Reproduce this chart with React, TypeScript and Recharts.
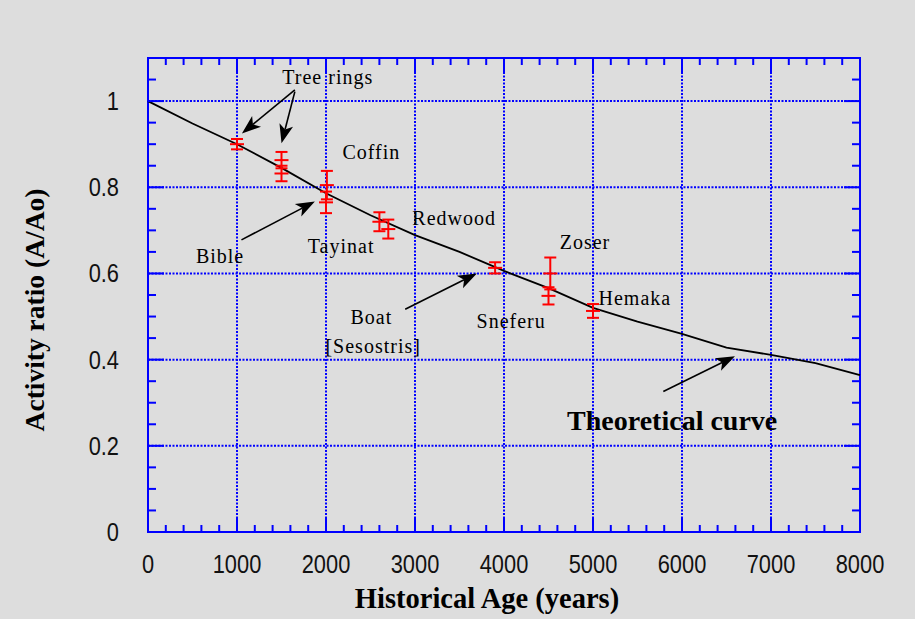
import React from 'react';
import {
  ComposedChart,
  Line,
  Scatter,
  XAxis,
  YAxis,
  CartesianGrid,
  ErrorBar,
  ReferenceArea,
  ReferenceLine,
} from 'recharts';

// ---- axis ticks ----
const xMajorTicks = [0, 1000, 2000, 3000, 4000, 5000, 6000, 7000, 8000];
const xMinorTicks = [
  0, 200, 400, 600, 800, 1000, 1200, 1400, 1600, 1800, 2000, 2200, 2400, 2600, 2800, 3000,
  3200, 3400, 3600, 3800, 4000, 4200, 4400, 4600, 4800, 5000, 5200, 5400, 5600, 5800, 6000,
  6200, 6400, 6600, 6800, 7000, 7200, 7400, 7600, 7800, 8000,
];
const yMajorTicks = [0, 0.2, 0.4, 0.6, 0.8, 1];
const yMinorTicks = [
  0, 0.05, 0.1, 0.15, 0.2, 0.25, 0.3, 0.35, 0.4, 0.45, 0.5, 0.55, 0.6, 0.65, 0.7, 0.75,
  0.8, 0.85, 0.9, 0.95, 1, 1.05, 1.1,
];

// ---- theoretical curve ----
const curveAge = [0, 500, 1000, 1500, 2000, 2500, 3000, 3500, 4000, 4500, 5000, 5500, 6000, 6500, 7000, 7500, 8000];
const curveRatio = [1.0, 0.948, 0.9, 0.845, 0.786, 0.735, 0.689, 0.65, 0.606, 0.566, 0.52, 0.488, 0.46, 0.428, 0.411, 0.392, 0.364];

// ---- samples with error bars ----
const sampleAge = [1000, 1500, 1500, 2010, 2000, 2600, 2700, 3900, 4500, 4520, 5000];
const sampleRatio = [0.9, 0.863, 0.832, 0.805, 0.765, 0.72, 0.703, 0.613, 0.548, 0.6, 0.513];
const sampleError = [0.012, 0.019, 0.018, 0.033, 0.025, 0.022, 0.022, 0.013, 0.02, 0.037, 0.016];

// ---- annotation labels ----
const labelText = ['Tree rings', 'Coffin', 'Bible', 'Tayinat', 'Redwood', 'Zoser', 'Hemaka', 'Boat', '[Sesostris]', 'Sneferu'];
const labelAge = [2020, 2510, 810, 2170, 3440, 4910, 5470, 2510, 2530, 4080];
const labelRatio = [1.04, 0.865, 0.624, 0.648, 0.712, 0.656, 0.527, 0.483, 0.415, 0.473];

const curveLabelText = ['Theoretical curve'];
const curveLabelAge = [5890];
const curveLabelRatio = [0.237];

// ---- arrows ----
const arrowFromAge = [1650, 1650, 1050, 2890, 5790];
const arrowFromRatio = [1.026, 1.022, 0.678, 0.517, 0.326];
const arrowToAge = [1055, 1500, 1875, 3695, 6595];
const arrowToRatio = [0.925, 0.902, 0.767, 0.6, 0.408];

const curveData = curveAge.map((x, i) => ({ x, y: curveRatio[i] }));
const sampleData = sampleAge.map((x, i) => ({ x, y: sampleRatio[i], err: sampleError[i] }));
const labelData = labelText.map((text, i) => ({ x: labelAge[i], y: labelRatio[i], text }));
const curveLabelData = curveLabelText.map((text, i) => ({ x: curveLabelAge[i], y: curveLabelRatio[i], text }));
const arrows = arrowFromAge.map((x, i) => ({
  from: { x, y: arrowFromRatio[i] },
  to: { x: arrowToAge[i], y: arrowToRatio[i] },
}));

const BLUE = '#0000ff';
const RED = '#ff0000';
const TICK_FONT = "'Liberation Sans', 'DejaVu Sans', sans-serif";
const SERIF = "'Liberation Serif', 'DejaVu Serif', serif";

// layout
const W = 915;
const H = 619;
const M = { top: 58, right: 55, bottom: 47, left: 88 };
const Y_AXIS_W = 60;
const X_AXIS_H = 40;
const PLOT_TOP = M.top;
const PLOT_RIGHT = W - M.right;
const MAJOR_LEN = 15;
const MINOR_LEN = 7;

const ArrowShape = (p: any) => {
  const { x1, y1, x2, y2 } = p;
  const dx = x2 - x1;
  const dy = y2 - y1;
  const len = Math.hypot(dx, dy) || 1;
  const ux = dx / len;
  const uy = dy / len;
  const nx = -uy;
  const ny = ux;
  const hl = 19;
  const hw = 7;
  const bx = x2 - ux * hl;
  const by = y2 - uy * hl;
  const mx = x2 - ux * hl * 0.75;
  const my = y2 - uy * hl * 0.75;
  const pts = [
    [x2, y2],
    [bx + nx * hw, by + ny * hw],
    [mx, my],
    [bx - nx * hw, by - ny * hw],
  ]
    .map((q) => q.join(','))
    .join(' ');
  return (
    <g>
      <line x1={x1} y1={y1} x2={mx} y2={my} stroke="#000" strokeWidth={1.6} />
      <polygon points={pts} fill="#000" />
    </g>
  );
};

const CenterMark = (p: any) => {
  const { cx, cy } = p;
  return <line x1={cx - 7} x2={cx + 7} y1={cy} y2={cy} stroke={RED} strokeWidth={2} />;
};

const LabelShape = (p: any) => (
  <text
    x={p.cx}
    y={p.cy}
    textAnchor="middle"
    fontFamily={SERIF}
    fontSize={20}
    letterSpacing={1}
    fill="#000"
  >
    {p.payload.text}
  </text>
);

const BoldLabelShape = (p: any) => (
  <text
    x={p.cx}
    y={p.cy}
    textAnchor="middle"
    fontFamily={SERIF}
    fontSize={28}
    fontWeight="bold"
    fill="#000"
  >
    {p.payload.text}
  </text>
);

// bottom axis tick: inward tick marks (bottom and top edges) + condensed label on majors
const XTick = (p: any) => {
  const v = p.payload.value;
  const major = xMajorTicks.includes(v);
  const len = major ? MAJOR_LEN : MINOR_LEN;
  const x = p.x;
  const yb = p.y; // bottom edge of plot
  return (
    <g>
      <line x1={x} x2={x} y1={yb} y2={yb - len} stroke={BLUE} strokeWidth={2} />
      <line x1={x} x2={x} y1={PLOT_TOP} y2={PLOT_TOP + len} stroke={BLUE} strokeWidth={2} />
      {major && (
        <g transform={`translate(${x},${yb + 22}) scale(0.84,1)`}>
          <text x={0} y={0} dy={19} textAnchor="middle" fontFamily={TICK_FONT} fontSize={26} fill="#111">
            {v}
          </text>
        </g>
      )}
    </g>
  );
};

// left axis tick: inward tick marks (left and right edges) + condensed label on majors
const YTick = (p: any) => {
  const v = p.payload.value;
  const major = yMajorTicks.includes(v);
  const len = major ? MAJOR_LEN + 1 : MINOR_LEN + 1;
  const xl = p.x; // left edge of plot
  const y = p.y;
  return (
    <g>
      <line x1={xl} x2={xl + len} y1={y} y2={y} stroke={BLUE} strokeWidth={2} />
      <line x1={PLOT_RIGHT} x2={PLOT_RIGHT - len} y1={y} y2={y} stroke={BLUE} strokeWidth={2} />
      {major && (
        <g transform={`translate(${xl - 29},${y}) scale(0.84,1)`}>
          <text x={0} y={0} dy={9} textAnchor="end" fontFamily={TICK_FONT} fontSize={26} fill="#111">
            {v}
          </text>
        </g>
      )}
    </g>
  );
};

export default function App() {
  return (
    <div
      style={{
        position: 'absolute',
        left: 0,
        top: 0,
        width: W,
        height: H,
        background: '#dddddd',
      }}
    >
      <ComposedChart width={W} height={H} margin={M}>
        <CartesianGrid
          xAxisId="main"
          yAxisId="main"
          stroke={BLUE}
          strokeWidth={2}
          strokeDasharray="2 1.5"
          verticalValues={xMajorTicks}
          horizontalValues={yMajorTicks}
        />
        <XAxis
          xAxisId="main"
          dataKey="x"
          type="number"
          domain={[0, 8000]}
          ticks={xMinorTicks}
          interval={0}
          height={X_AXIS_H}
          tickLine={false}
          axisLine={false}
          tickSize={0}
          tickMargin={0}
          tick={XTick}
          label={{
            value: 'Historical Age (years)',
            content: () => (
              <text
                x={487}
                y={608}
                textAnchor="middle"
                fontFamily={SERIF}
                fontSize={28.5}
                fontWeight="bold"
                fill="#000"
              >
                Historical Age (years)
              </text>
            ),
          }}
        />
        <YAxis
          yAxisId="main"
          dataKey="y"
          type="number"
          domain={[0, 1.1]}
          ticks={yMinorTicks}
          interval={0}
          width={Y_AXIS_W}
          tickLine={false}
          axisLine={false}
          tickSize={0}
          tickMargin={0}
          tick={YTick}
          label={{
            value: 'Activity ratio (A/Ao)',
            content: () => (
              <text
                transform="translate(44,310) rotate(-90)"
                textAnchor="middle"
                fontFamily={SERIF}
                fontSize={27.5}
                fontWeight="bold"
                fill="#000"
              >
                Activity ratio (A/Ao)
              </text>
            ),
          }}
        />

        <ReferenceArea
          xAxisId="main"
          yAxisId="main"
          x1={0}
          x2={8000}
          y1={0}
          y2={1.1}
          fill="none"
          fillOpacity={0}
          stroke={BLUE}
          strokeWidth={2}
          ifOverflow="visible"
        />

        <Line
          xAxisId="main"
          yAxisId="main"
          data={curveData}
          dataKey="y"
          type="linear"
          stroke="#000"
          strokeWidth={1.8}
          dot={false}
          activeDot={false}
          isAnimationActive={false}
        />

        {arrows.map((a, i) => (
          <ReferenceLine
            key={i}
            xAxisId="main"
            yAxisId="main"
            segment={[a.from, a.to]}
            ifOverflow="visible"
            shape={ArrowShape}
          />
        ))}

        <Scatter
          xAxisId="main"
          yAxisId="main"
          data={sampleData}
          dataKey="y"
          shape={CenterMark}
          isAnimationActive={false}
        >
          <ErrorBar dataKey="err" direction="y" width={6} stroke={RED} strokeWidth={2} isAnimationActive={false} />
        </Scatter>

        <Scatter
          xAxisId="main"
          yAxisId="main"
          data={labelData}
          dataKey="y"
          shape={LabelShape}
          isAnimationActive={false}
        />
        <Scatter
          xAxisId="main"
          yAxisId="main"
          data={curveLabelData}
          dataKey="y"
          shape={BoldLabelShape}
          isAnimationActive={false}
        />
      </ComposedChart>
    </div>
  );
}
